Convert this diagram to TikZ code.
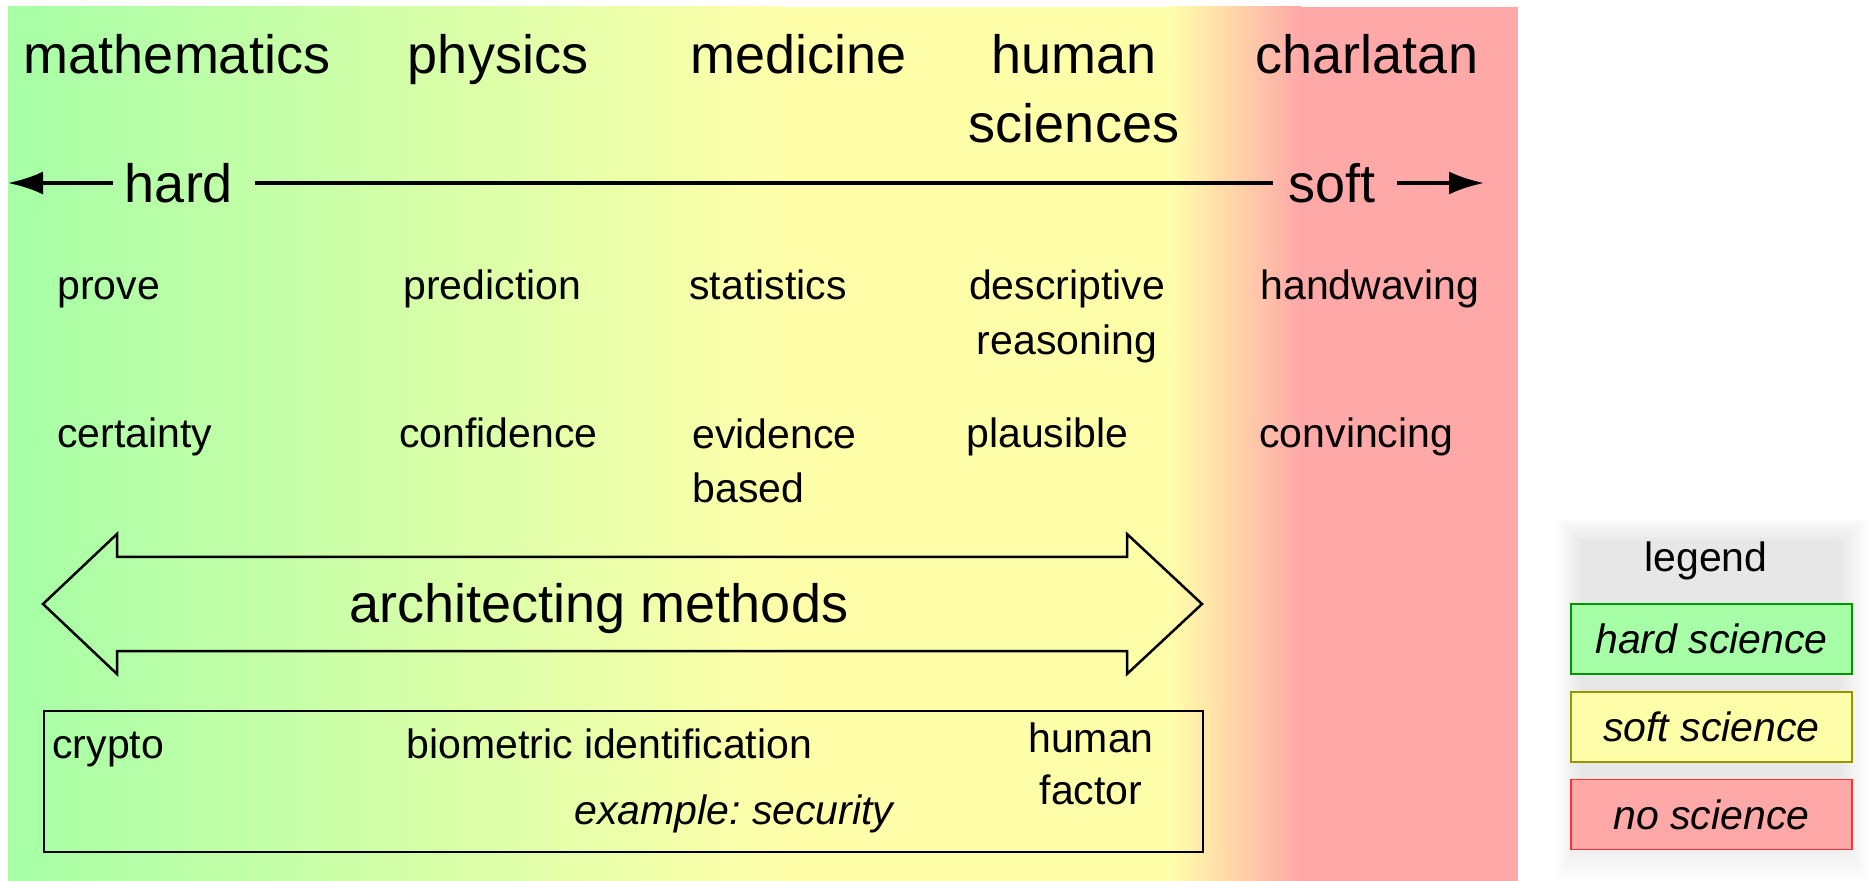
\documentclass[tikz,border=0pt]{standalone}
\usepackage{fontspec}
\setmainfont{Liberation Sans}
\frenchspacing
\usetikzlibrary{arrows.meta}
\definecolor{hardg}{RGB}{166,255,166}
\definecolor{softy}{RGB}{255,255,170}
\definecolor{nor}{RGB}{255,168,168}
\definecolor{hardborder}{RGB}{0,150,0}
\definecolor{softborder}{RGB}{150,150,0}
\definecolor{noborder}{RGB}{255,50,50}
\begin{document}
\begin{tikzpicture}[x=0.5pt,y=-0.5pt,
  big/.style={font=\fontsize{27}{34.5}\selectfont, inner sep=0pt, align=center},
  med/.style={font=\fontsize{20.5}{27.5}\selectfont, inner sep=0pt},
  axisline/.style={line width=1.75pt},
  tip/.style={-{Latex[length=17.5pt,width=11.5pt]}},
  legbox/.style={draw, line width=0.6pt, minimum width=140.5pt, minimum height=35pt, inner sep=0pt,
    font=\fontsize{20.5}{24}\selectfont\itshape}
]
\useasboundingbox (0,0) rectangle (1868,881);
% background gradient
\shade[left color=hardg, right color=softy] (8,7) rectangle (781,881);
\fill[softy] (780,7) rectangle (1171,881);
\shade[left color=softy, right color=nor] (1170,7) rectangle (1301,881);
\fill[nor] (1300,7) rectangle (1518,881);

% top row
\node[big, anchor=base] (math) at (177,74) {mathematics};
\node[big, anchor=base] (phys) at (498,74) {physics};
\node[big, anchor=base] (med) at (799,74) {medicine};
\node[big, anchor=base] (hum) at (1074,143) {human\\sciences};
\node[big, anchor=base] (charl) at (1367,74) {charlatan};

% hard -- soft axis
\node[big, anchor=base] (hard) at (179,203) {hard};
\node[big, anchor=base] (soft) at (1332,203) {soft};
\coordinate (ltip) at (8,183);
\coordinate (rtip) at (1484,183);
\draw[axisline, tip, shorten <=6pt] (hard.west |- ltip) -- (ltip);
\draw[axisline, shorten <=11pt, shorten >=7.5pt] (hard.east |- ltip) -- (soft.west |- ltip);
\draw[axisline, tip, shorten <=10.5pt] (soft.east |- rtip) -- (rtip);

% methods row
\node[med, anchor=base west] (prove) at (57,300) {prove};
\node[med, anchor=base west] (pred) at (403,300) {prediction};
\node[med, anchor=base west] (stat) at (689,300) {statistics};
\node[med, anchor=base, align=center] (desc) at (1067,355) {descriptive\\reasoning};
\node[med, anchor=base west] (hand) at (1260,300) {handwaving};

% outcome row
\node[med, anchor=base west] (cert) at (57,448) {certainty};
\node[med, anchor=base west] (conf) at (399,448) {confidence};
\node[med, anchor=base west, align=left] (evid) at (692,503) {evidence\\based};
\node[med, anchor=base west] (plaus) at (966,448) {plausible};
\node[med, anchor=base west] (conv) at (1259,448) {convincing};

% double arrow
\draw[line width=1.25pt, line join=miter] (43,604) -- (117,534) -- (117,557) -- (1127,557) -- (1127,534) -- (1202,604)
  -- (1127,674) -- (1127,651) -- (117,651) -- (117,674) -- cycle;
\node[big, anchor=base] (arch) at (599,622) {architecting methods};

% example box
\node[draw, line width=0.75pt, inner sep=0pt, minimum width=579.5pt, minimum height=70.5pt, anchor=north west] (box) at (43,710) {};
\node[med, anchor=base west] (crypto) at (52,758) {crypto};
\node[med, anchor=base west] (bio) at (406,758) {biometric identification};
\node[med, anchor=base, align=center, font=\fontsize{20.5}{26}\selectfont] (hf) at (1091,804) {human\\factor};
\node[med, anchor=base west, font=\fontsize{20.5}{26}\selectfont\itshape] (ex) at (574,824) {example: security};

% legend glow
\foreach \i in {0,...,11}
  \fill[black, fill opacity=0.008] ({1557+\i*2.2},{518+\i*2.1}) rectangle ({1868-\i*2.6},{881-\i*4});
\node[med, anchor=base] (leg) at (1706,572) {legend};
\node[legbox, fill=hardg, draw=hardborder] (lh) at (1711.5,639) {hard science\hspace{8pt}};
\node[legbox, fill=softy, draw=softborder] (ls) at (1711.5,727) {soft science\hspace{8pt}};
\node[legbox, fill=nor, draw=noborder] (ln) at (1711.5,814.5) {no science\hspace{6pt}};
\end{tikzpicture}
\end{document}
